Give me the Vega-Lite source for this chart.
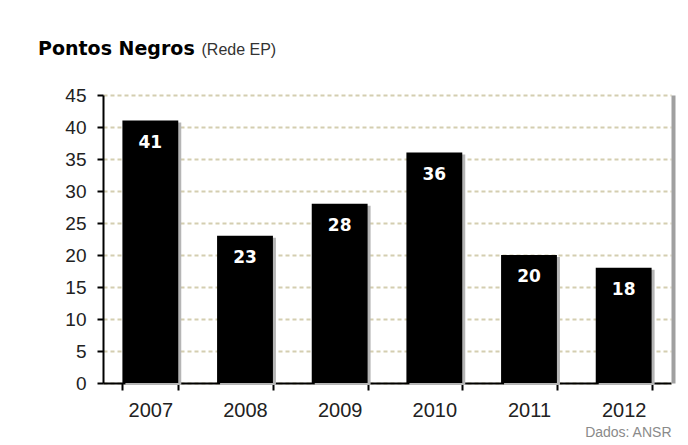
{
  "$schema": "https://vega.github.io/schema/vega-lite/v6.json",
  "width": 568,
  "height": 288,
  "autosize": "none",
  "padding": {"left": 103, "top": 95, "right": 17, "bottom": 62},
  "background": "white",
  "title": {
    "text": "Pontos Negros",
    "anchor": "start",
    "frame": "group",
    "dx": -65,
    "offset": -18,
    "font": "DejaVu Sans",
    "fontSize": 19,
    "fontWeight": "bold",
    "color": "black"
  },
  "config": {"view": {"stroke": null}},
  "data": {
    "values": [
      {"year": "2007", "value": 41},
      {"year": "2008", "value": 23},
      {"year": "2009", "value": 28},
      {"year": "2010", "value": 36},
      {"year": "2011", "value": 20},
      {"year": "2012", "value": 18}
    ]
  },
  "encoding": {
    "x": {
      "field": "year",
      "type": "nominal",
      "scale": {"paddingInner": 0.41, "paddingOuter": 0.205},
      "axis": {
        "title": "Dados: ANSR",
        "titleAnchor": "end",
        "titleAlign": "right",
        "titleColor": "#8a8a8a",
        "titleFont": "Liberation Sans",
        "titleFontSize": 14,
        "titleFontWeight": "normal",
        "titlePadding": 5,
        "labelAngle": 0,
        "labelFont": "Liberation Sans",
        "labelFontSize": 20,
        "labelColor": "#222",
        "labelPadding": 10,
        "tickBand": "extent",
        "tickSize": 7,
        "tickColor": "black",
        "tickWidth": 2,
        "domainColor": "black",
        "domainWidth": 2,
        "grid": false
      }
    }
  },
  "layer": [
    {
      "mark": {"type": "bar", "color": "#b5b5b5", "xOffset": 3, "yOffset": 2},
      "encoding": {
        "y": {
          "field": "value",
          "type": "quantitative",
          "scale": {"domain": [0, 45]},
          "axis": {
            "orient": "right",
            "title": null,
            "labels": false,
            "ticks": false,
            "grid": false,
            "domainColor": "#a0a0a0",
            "domainWidth": 4,
            "offset": 2
          }
        }
      }
    },
    {
      "mark": {"type": "bar", "color": "black"},
      "encoding": {
        "y": {
          "field": "value",
          "type": "quantitative",
          "scale": {"domain": [0, 45]},
          "axis": {
            "orient": "left",
            "title": "(Rede EP)",
            "titleAngle": 0,
            "titleAlign": "left",
            "titleBaseline": "alphabetic",
            "titleX": 98,
            "titleY": -41,
            "titleFont": "Liberation Sans",
            "titleFontSize": 16,
            "titleFontWeight": "normal",
            "titleColor": "#333",
            "values": [0, 5, 10, 15, 20, 25, 30, 35, 40, 45],
            "labelFont": "Liberation Sans",
            "labelFontSize": 19,
            "labelColor": "#222",
            "labelPadding": 11,
            "tickSize": 6,
            "tickColor": "black",
            "tickWidth": 2,
            "domainColor": "black",
            "domainWidth": 2,
            "grid": true,
            "gridColor": "#d4ceb0",
            "gridDash": [4, 3],
            "gridWidth": 2
          }
        }
      }
    },
    {
      "mark": {
        "type": "text",
        "color": "white",
        "baseline": "top",
        "dy": 14,
        "font": "DejaVu Sans",
        "fontSize": 17,
        "fontWeight": "bold"
      },
      "encoding": {
        "y": {"field": "value", "type": "quantitative", "axis": null},
        "text": {"field": "value", "type": "quantitative"}
      }
    }
  ]
}
